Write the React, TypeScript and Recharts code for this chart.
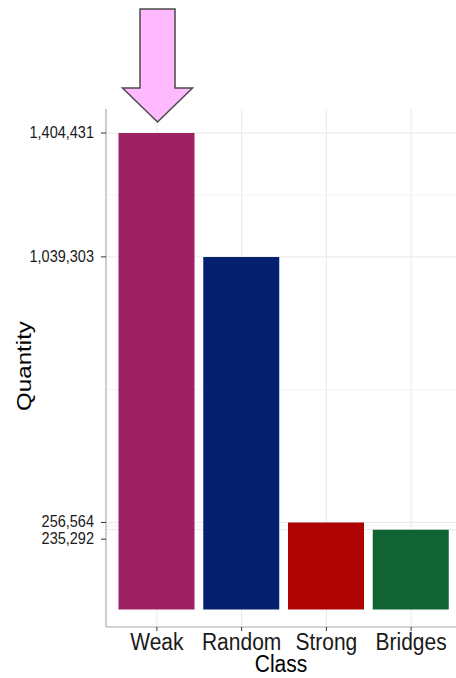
import React from 'react';
import { BarChart, Bar, XAxis, YAxis, CartesianGrid, Cell, LabelList, Label } from 'recharts';

const classes = ['Weak', 'Random', 'Strong', 'Bridges'];
const quantities = [1404431, 1039303, 256564, 235292];
const barColors = ['#9e2163', '#04206f', '#ae0303', '#106332'];
const yTicks = [235292, 256564, 1039303, 1404431];
const highlighted = 'Weak';
const yDomain = [-51600, 1475200];

const data = classes.map((c, i) => ({ cls: c, qty: quantities[i] }));
const minorTicks = yTicks.slice(1).map((t, i) => (t + yTicks[i]) / 2);
const fmt = (v: number) => v.toLocaleString('en-US');

const FONT = '"Liberation Sans", Arial, Helvetica, sans-serif';
const STRETCH = 1.1;
const labelNudge: Record<number, number> = { 235292: 9.5 };

const YTick = (props: any) => {
  const { x, y, payload } = props;
  const yy = y + (labelNudge[payload.value] ?? 0);
  const axisX = x + 7;
  return (
    <g>
      <line x1={axisX - 5} x2={axisX} y1={yy} y2={yy} stroke="#333" strokeWidth={1} />
      <text
        transform={`translate(${axisX - 12},${yy + 5}) scale(1,${STRETCH})`}
        textAnchor="end"
        style={{ fontFamily: FONT, fontSize: 14.5 }}
        fill="#1a1a1a"
      >
        {fmt(payload.value)}
      </text>
    </g>
  );
};

const XTick = (props: any) => {
  const { x, y, payload } = props;
  return (
    <text
      transform={`translate(${x},${y + 19}) scale(1,${STRETCH})`}
      textAnchor="middle"
      style={{ fontFamily: FONT, fontSize: 21 }}
      fill="#1a1a1a"
    >
      {payload.value}
    </text>
  );
};

const Arrow = (props: any) => {
  const vb = props.viewBox || {};
  const x = props.x ?? vb.x;
  const y = props.y ?? vb.y;
  const width = props.width ?? vb.width;
  const index = props.index;
  if (classes[index] !== highlighted) return null;
  const cx = x + width / 2 + 1;
  const tip = y - 11;
  const headBase = tip - 34;
  const top = tip - 113;
  const hw = 35;
  const sw = 17.5;
  const d = `M${cx - sw},${top} L${cx + sw},${top} L${cx + sw},${headBase} L${cx + hw},${headBase} L${cx},${tip} L${cx - hw},${headBase} L${cx - sw},${headBase} Z`;
  return <path d={d} fill="#ffb3fe" fillOpacity={0.92} stroke="#4a4a4a" strokeWidth={1.5} strokeLinejoin="miter" />;
};

export default function App() {
  return (
    <div style={{ position: 'absolute', left: 0, top: 0, width: 456, height: 678, overflow: 'hidden', background: '#fff' }}>
      <BarChart
        width={470}
        height={678}
        data={data}
        margin={{ top: 109, right: 8, bottom: 0, left: 0 }}
      >
        <CartesianGrid horizontal={true} vertical={false} horizontalValues={minorTicks} stroke="#f4f4f4" strokeWidth={1} />
        <CartesianGrid horizontal={true} vertical={true} horizontalValues={yTicks} stroke="#e9e9e9" strokeWidth={1} />
        <XAxis
          dataKey="cls"
          type="category"
          interval={0}
          padding={{ left: 8.5, right: 8.5 }}
          height={51}
          tickSize={4}
          tickMargin={0}
          tickLine={{ stroke: '#333' }}
          axisLine={{ stroke: '#a8a8a8' }}
          tick={<XTick />}
        >
          <Label
            content={(p: any) => {
              const vb = p.viewBox;
              const cx = vb.x + vb.width / 2 - 3;
              return (
                <text
                  transform={`translate(${cx},${vb.y + 45}) scale(1,${STRETCH})`}
                  textAnchor="middle"
                  style={{ fontFamily: FONT, fontSize: 21 }}
                  fill="#000"
                >
                  Class
                </text>
              );
            }}
          />
        </XAxis>
        <XAxis
          xAxisId="top"
          dataKey="cls"
          orientation="top"
          height={0}
          tick={false}
          tickLine={false}
          axisLine={{ stroke: '#a8a8a8' }}
        />
        <YAxis
          type="number"
          domain={yDomain}
          ticks={yTicks}
          interval={0}
          allowDataOverflow={true}
          width={106}
          tickSize={5}
          tickMargin={2}
          tickLine={false}
          axisLine={{ stroke: '#a8a8a8' }}
          tick={<YTick />}
        >
          <Label
            content={(p: any) => {
              const vb = p.viewBox;
              const cy = vb.y + vb.height / 2 - 2;
              return (
                <text
                  transform={`translate(31,${cy}) rotate(-90) scale(${STRETCH + 0.05},1)`}
                  textAnchor="middle"
                  style={{ fontFamily: FONT, fontSize: 21 }}
                  fill="#000"
                >
                  Quantity
                </text>
              );
            }}
          />
        </YAxis>
        <Bar dataKey="qty" barSize={76} isAnimationActive={false}>
          {data.map((d, i) => (
            <Cell key={d.cls} fill={barColors[i]} />
          ))}
          <LabelList dataKey="qty" content={<Arrow />} />
        </Bar>
      </BarChart>
    </div>
  );
}
